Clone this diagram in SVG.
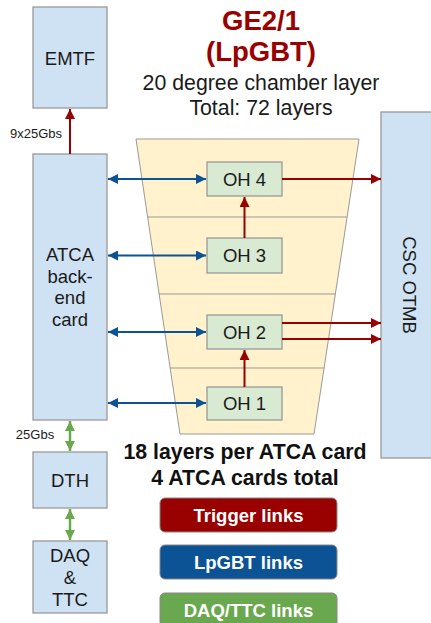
<svg xmlns="http://www.w3.org/2000/svg" width="431" height="623" viewBox="0 0 431 623">
<defs>
<style>
.box{fill:#cfe2f3;stroke:#999999;stroke-width:1.3}
.oh{fill:#d9ead3;stroke:#999999;stroke-width:1.3}
.t{font-family:"Liberation Sans",Arial,sans-serif;font-size:18.5px;fill:#1a1a1a;text-anchor:middle}
.sm{font-family:"Liberation Sans",Arial,sans-serif;font-size:13px;fill:#1a1a1a;text-anchor:middle}
.title{font-family:"Liberation Sans",Arial,sans-serif;font-size:27.5px;font-weight:bold;fill:#990000;text-anchor:middle}
.sub{font-family:"Liberation Sans",Arial,sans-serif;font-size:21.3px;fill:#1a1a1a;text-anchor:middle}
.bold{font-family:"Liberation Sans",Arial,sans-serif;font-size:21.3px;font-weight:bold;fill:#111111;text-anchor:middle}
.leg{font-family:"Liberation Sans",Arial,sans-serif;font-size:18.5px;font-weight:bold;fill:#ffffff;text-anchor:middle}
.red{stroke:#990000;stroke-width:2;fill:none}
.blue{stroke:#0b5394;stroke-width:2;fill:none}
.green{stroke:#6aa84f;stroke-width:2.5;fill:none}
</style>
<marker id="ar" viewBox="0 0 10 10" refX="10" refY="5" markerWidth="10" markerHeight="10" markerUnits="userSpaceOnUse" orient="auto"><path d="M0,0 L10,5 L0,10 z" fill="#990000"/></marker>
<marker id="ab" viewBox="0 0 10 10" refX="10" refY="5" markerWidth="11" markerHeight="10" markerUnits="userSpaceOnUse" orient="auto-start-reverse"><path d="M0,0 L10,5 L0,10 z" fill="#0b5394"/></marker>
<marker id="ag" viewBox="0 0 10 10" refX="10" refY="5" markerWidth="10" markerHeight="11" markerUnits="userSpaceOnUse" orient="auto-start-reverse"><path d="M0,0 L10,5 L0,10 z" fill="#6aa84f"/></marker>
</defs>
<rect width="431" height="623" fill="#ffffff"/>

<g id="chamber">
<path d="M136,139 L359,139 L314,434 L180,434 Z" fill="#fff2cc" stroke="#999999" stroke-width="1"/>
<line x1="147.6" y1="217" x2="347.1" y2="217" stroke="#999999" stroke-width="1"/>
<line x1="159" y1="294" x2="335.4" y2="294" stroke="#999999" stroke-width="1"/>
<line x1="170.1" y1="368" x2="324.1" y2="368" stroke="#999999" stroke-width="1"/>
</g>

<g id="title">
<text class="title" x="261" y="30">GE2/1</text>
<text class="title" x="261" y="61">(LpGBT)</text>
<text class="sub" x="261" y="90">20 degree chamber layer</text>
<text class="sub" x="261" y="115">Total: 72 layers</text>
</g>

<g id="emtf"><rect class="box" x="33" y="7" width="74" height="101"/><text class="t" x="70" y="65">EMTF</text></g>
<g id="atca"><rect class="box" x="33" y="154" width="74" height="266"/>
<text class="t" x="70" y="261">ATCA</text><text class="t" x="70" y="283">back-</text><text class="t" x="70" y="304">end</text><text class="t" x="70" y="326">card</text></g>
<g id="dth"><rect class="box" x="33" y="452" width="74" height="56"/><text class="t" x="70" y="487">DTH</text></g>
<g id="daq"><rect class="box" x="33" y="541" width="74" height="72"/>
<text class="t" x="70" y="562">DAQ</text><text class="t" x="70" y="584">&amp;</text><text class="t" x="70" y="606">TTC</text></g>
<g id="otmb"><rect class="box" x="381" y="112" width="56" height="346"/>
<text class="t" x="0" y="0" transform="translate(403,285) rotate(90)">CSC OTMB</text></g>

<g id="oh4"><rect class="oh" x="207" y="162" width="75" height="34"/><text class="t" x="244.5" y="185.5">OH 4</text></g>
<g id="oh3"><rect class="oh" x="207" y="238" width="75" height="35"/><text class="t" x="244.5" y="262">OH 3</text></g>
<g id="oh2"><rect class="oh" x="207" y="315" width="75" height="34"/><text class="t" x="244.5" y="338.5">OH 2</text></g>
<g id="oh1"><rect class="oh" x="207" y="387" width="75" height="33"/><text class="t" x="244.5" y="410">OH 1</text></g>

<g id="connectors">
<line class="red" x1="70" y1="154" x2="70" y2="109" marker-end="url(#ar)"/>
<text class="sm" x="36" y="138">9x25Gbs</text>
<line class="blue" x1="108" y1="179" x2="206" y2="179" marker-start="url(#ab)" marker-end="url(#ab)"/>
<line class="blue" x1="108" y1="255.5" x2="206" y2="255.5" marker-start="url(#ab)" marker-end="url(#ab)"/>
<line class="blue" x1="108" y1="332" x2="206" y2="332" marker-start="url(#ab)" marker-end="url(#ab)"/>
<line class="blue" x1="108" y1="403" x2="206" y2="403" marker-start="url(#ab)" marker-end="url(#ab)"/>
<line class="red" x1="282" y1="179" x2="381" y2="179" marker-end="url(#ar)"/>
<line class="red" x1="282" y1="323" x2="381" y2="323" marker-end="url(#ar)"/>
<line class="red" x1="282" y1="339" x2="381" y2="339" marker-end="url(#ar)"/>
<line class="red" x1="244.5" y1="238" x2="244.5" y2="197" marker-end="url(#ar)"/>
<line class="red" x1="244.5" y1="387" x2="244.5" y2="350" marker-end="url(#ar)"/>
<line class="green" x1="70" y1="421" x2="70" y2="451" marker-start="url(#ag)" marker-end="url(#ag)"/>
<line class="green" x1="70" y1="509" x2="70" y2="540" marker-start="url(#ag)" marker-end="url(#ag)"/>
<text class="sm" x="35" y="439">25Gbs</text>
</g>

<g id="notes">
<text class="bold" x="245" y="459">18 layers per ATCA card</text>
<text class="bold" x="245" y="485">4 ATCA cards total</text>
</g>

<g id="legend">
<rect x="160" y="498" width="177" height="34" rx="5" fill="#990000" stroke="#888888" stroke-width="1"/>
<text class="leg" x="248.5" y="521.5">Trigger links</text>
<rect x="160" y="545" width="177" height="34" rx="5" fill="#0b5394" stroke="#888888" stroke-width="1"/>
<text class="leg" x="248.5" y="568.5">LpGBT links</text>
<rect x="160" y="593" width="177" height="34" rx="5" fill="#6aa84f" stroke="#888888" stroke-width="1"/>
<text class="leg" x="248.5" y="616.5">DAQ/TTC links</text>
</g>
</svg>
